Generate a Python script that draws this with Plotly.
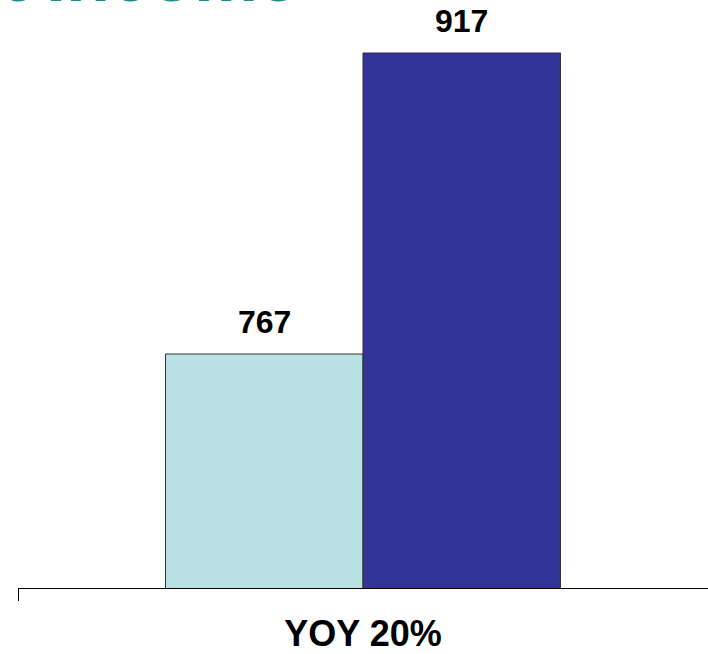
import plotly.graph_objects as go

# Chart data
categories = ["YOY 20%"]
prior_values = [767]
current_values = [917]
series_names = ["Prior year", "Current year"]
title_text = "Net Income"

LIGHT = "#B9E0E3"
DARK = "#333399"
TEAL = "#009999"
FONT = "Liberation Sans, Arial, sans-serif"

fig = go.Figure()
for name, vals, color in [(series_names[0], prior_values, LIGHT),
                          (series_names[1], current_values, DARK)]:
    fig.add_trace(go.Bar(
        x=categories, y=vals, name=name,
        marker=dict(color=color, line=dict(color="#333333", width=1)),
        hoverinfo="y",
    ))

# Value labels above each bar
offsets = [-0.5, 0.5]
for off, vals in zip(offsets, [prior_values, current_values]):
    for v in vals:
        fig.add_annotation(
            x=0, y=v, xref="x", yref="y",
            xshift=off * 197, yshift=12,
            text=f"<b>{v}</b>", showarrow=False, yanchor="bottom",
            font=dict(family=FONT, size=32, color="black"),
        )

# Heading that runs past the top edge
fig.add_annotation(
    x=-0.16, y=1, xref="paper", yref="paper",
    xanchor="left", yanchor="bottom", yshift=-18,
    text=f"<b>{title_text}</b>", showarrow=False,
    font=dict(family=FONT, size=72, color=TEAL),
)

fig.update_layout(
    width=708, height=654,
    margin=dict(l=18, r=0, t=0, b=66),
    paper_bgcolor="white", plot_bgcolor="white",
    barmode="group", bargap=0.4275, bargroupgap=0,
    showlegend=False,
    xaxis=dict(
        type="category", showline=True, linecolor="black", linewidth=1,
        ticks="outside", tickson="boundaries", ticklen=12, tickcolor="black",
        ticklabelstandoff=14,
        tickfont=dict(family=FONT, size=36, color="black", weight="bold"),
        showgrid=False, zeroline=False,
    ),
    yaxis=dict(range=[650.4, 943.4], visible=False, showgrid=False,
               zeroline=False),
)

fig.write_html("out.html")
